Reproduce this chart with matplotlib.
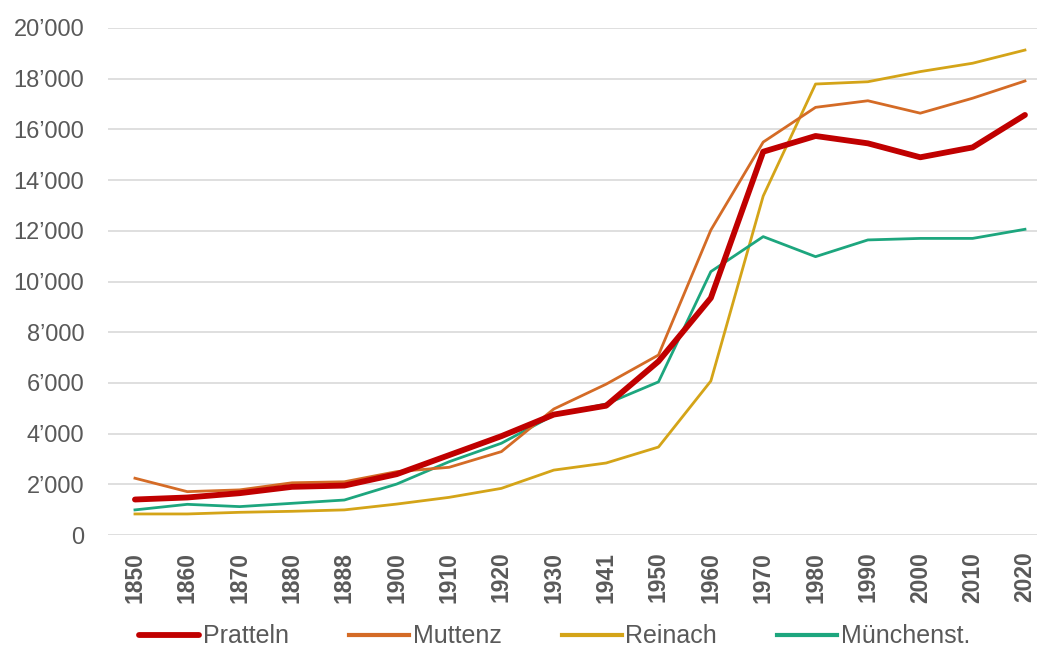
import matplotlib
matplotlib.use("Agg")
import matplotlib.pyplot as plt
from matplotlib.ticker import FuncFormatter

years = ["1850", "1860", "1870", "1880", "1888", "1900", "1910", "1920", "1930",
         "1941", "1950", "1960", "1970", "1980", "1990", "2000", "2010", "2020"]
pratteln = [1400, 1480, 1650, 1900, 1950, 2400, 3150, 3900, 4750, 5100, 6850,
            9350, 15120, 15740, 15450, 14900, 15290, 16570]
muttenz = [2240, 1710, 1780, 2060, 2100, 2500, 2670, 3290, 4970, 5950, 7100,
           12030, 15500, 16870, 17130, 16640, 17230, 17910]
reinach = [830, 830, 895, 935, 990, 1220, 1485, 1840, 2560, 2840, 3470,
           6075, 13370, 17790, 17880, 18280, 18610, 19130]
muenchenstein = [990, 1210, 1120, 1250, 1380, 2010, 2890, 3620, 4730, 5170, 6040,
                 10390, 11770, 10980, 11640, 11700, 11700, 12060]
series_names = ["Pratteln", "Muttenz", "Reinach", "Münchenst."]
y_ticks = list(range(0, 20001, 2000))

plt.rcParams['font.family'] = ['Liberation Sans', 'DejaVu Sans']
fig = plt.figure(figsize=(10.37, 6.59), dpi=100)
ax = fig.add_axes([108/1037, 1 - 535/659, 1 - 108/1037, (535 - 28)/659])

x = list(range(len(years)))
ax.plot(x, pratteln, color="#C00000", lw=4.2, label=series_names[0], zorder=5, solid_capstyle='round')
ax.plot(x, muttenz, color="#D46B26", lw=2.0, label=series_names[1], zorder=4)
ax.plot(x, reinach, color="#D4A418", lw=2.0, label=series_names[2], zorder=3)
ax.plot(x, muenchenstein, color="#1DA67E", lw=2.0, label=series_names[3], zorder=3)

ax.set_xlim(-0.515, len(years) - 1 + 0.23)
ax.set_ylim(0, 20000)
ax.set_yticks(y_ticks)
ax.yaxis.set_major_formatter(FuncFormatter(lambda v, p: f"{int(v):,}".replace(",", "\u2019")))
ax.set_xticks(x)
ax.set_xticklabels(years, rotation=90, fontweight='bold', fontsize=16.5, color="#595959")
ax.tick_params(axis='y', labelsize=17, labelcolor="#595959", length=0, pad=17)
ax.tick_params(axis='x', length=0, pad=12)
ax.grid(axis='y', color="#D9D9D9", lw=1.2)
ax.set_axisbelow(True)
for s in ax.spines.values():
    s.set_visible(False)

leg = fig.legend(loc='lower center', bbox_to_anchor=(0.535, -0.018), ncol=4, frameon=False,
                 fontsize=18, handlelength=2.4, handletextpad=0.15, columnspacing=2.4,
                 labelcolor="#595959")
for h in leg.get_lines():
    h.set_linewidth(3.0)
leg.get_lines()[0].set_linewidth(4.2)

fig.savefig("out.png", dpi=100)
